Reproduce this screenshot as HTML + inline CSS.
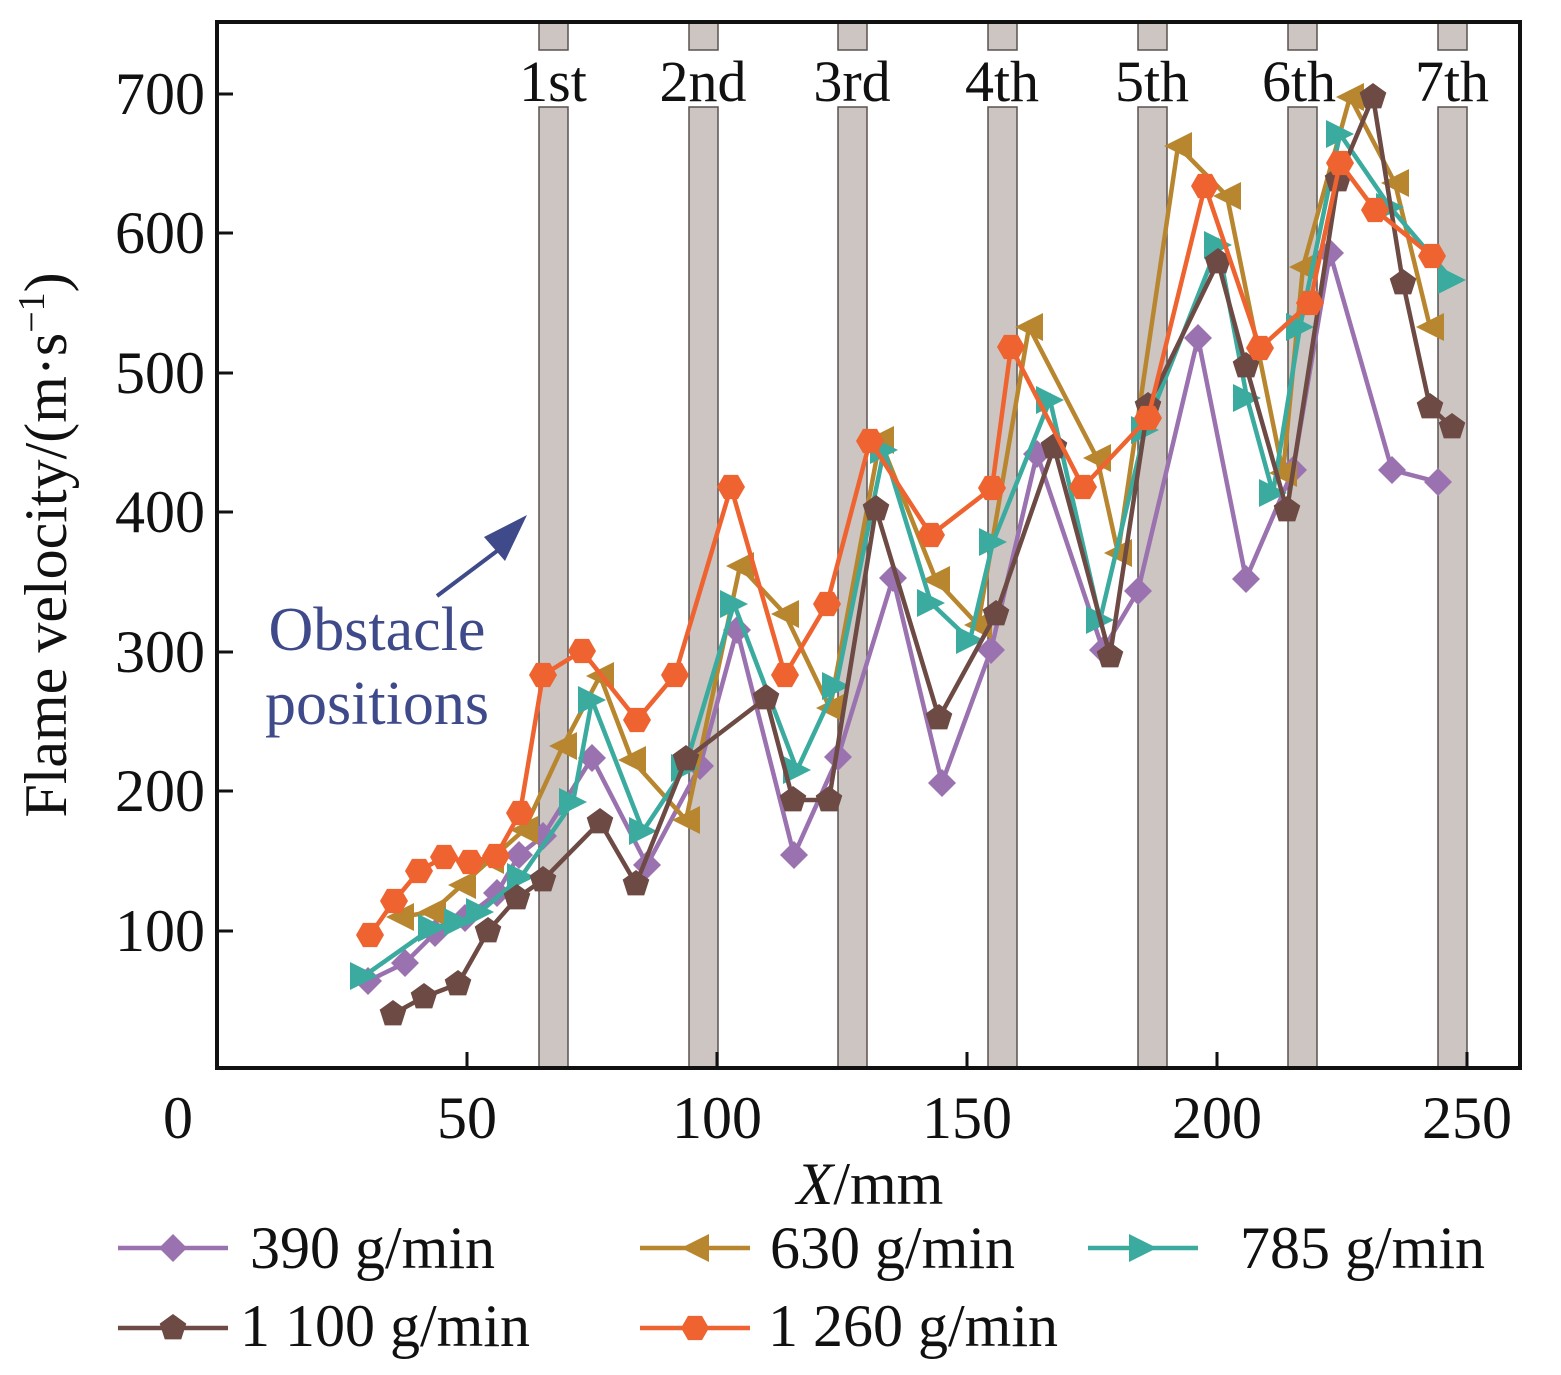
<!DOCTYPE html>
<html><head><meta charset="utf-8"><style>body{margin:0;background:#fff}svg{display:block}text{font-family:"Liberation Serif",serif;fill:#111}</style></head>
<body>
<svg id="s" width="1561" height="1375" viewBox="0 0 1561 1375" xmlns="http://www.w3.org/2000/svg">
<g id="bars" fill="#cdc5c2" stroke="#5a5250" stroke-width="1.5"></g>
<g id="series"></g>
<rect x="217" y="22" width="1303" height="1046" fill="none" stroke="#111" stroke-width="4"/>
<g font-size="58" text-anchor="middle">
<text x="553" y="101">1st</text><text x="703" y="101">2nd</text><text x="852" y="101">3rd</text><text x="1002" y="101">4th</text><text x="1152" y="101">5th</text><text x="1299" y="101">6th</text><text x="1452" y="101">7th</text>
</g>
<g stroke="#111" stroke-width="3">
<line x1="467" y1="1068" x2="467" y2="1052"/><line x1="717" y1="1068" x2="717" y2="1052"/><line x1="967" y1="1068" x2="967" y2="1052"/><line x1="1217" y1="1068" x2="1217" y2="1052"/><line x1="1467" y1="1068" x2="1467" y2="1052"/>
<line x1="217" y1="94" x2="233" y2="94"/><line x1="217" y1="233" x2="233" y2="233"/><line x1="217" y1="373" x2="233" y2="373"/><line x1="217" y1="512" x2="233" y2="512"/><line x1="217" y1="652" x2="233" y2="652"/><line x1="217" y1="791" x2="233" y2="791"/><line x1="217" y1="931" x2="233" y2="931"/>
</g>
<g font-size="60" text-anchor="end">
<text x="205" y="114">700</text><text x="205" y="253">600</text><text x="205" y="393">500</text><text x="205" y="532">400</text><text x="205" y="672">300</text><text x="205" y="811">200</text><text x="205" y="951">100</text>
</g>
<g font-size="60" text-anchor="middle">
<text x="178" y="1138">0</text><text x="467" y="1138">50</text><text x="717" y="1138">100</text><text x="967" y="1138">150</text><text x="1217" y="1138">200</text><text x="1467" y="1138">250</text>
<text x="870" y="1204"><tspan font-style="italic">X</tspan>/mm</text>
</g>
<text font-size="60" text-anchor="middle" transform="translate(66,545) rotate(-90)">Flame velocity/(m·s<tspan dy="-22" font-size="38">−1</tspan><tspan dy="22">)</tspan></text>
<g font-size="62" text-anchor="middle"><text x="377" y="650" style="fill:#3f4a8a">Obstacle</text><text x="377" y="724" style="fill:#3f4a8a">positions</text></g>
<line x1="437" y1="596" x2="505" y2="545" stroke="#3f4a8a" stroke-width="4"/>
<polygon points="527,515 484,537 505,561" fill="#3f4a8a"/>
<g id="leg"></g>
<g font-size="60">
<text x="250" y="1268">390 g/min</text><text x="770" y="1268">630 g/min</text><text x="1240" y="1268">785 g/min</text>
<text x="240" y="1346">1 100 g/min</text><text x="768" y="1346">1 260 g/min</text>
</g>
</svg>
<script>
var NS="http://www.w3.org/2000/svg";
function el(p,t,a){var e=document.createElementNS(NS,t);for(var k in a)e.setAttribute(k,a[k]);p.appendChild(e);return e;}
var bars=document.getElementById('bars');
[539,689,838,988,1138,1288,1438].forEach(function(x){el(bars,'rect',{x:x,y:22,width:29,height:28});el(bars,'rect',{x:x,y:107,width:29,height:961});});
function mk(g,type,x,y,c){var r=14,p=[];
 if(type=='d'){p=[[0,-r],[r,0],[0,r],[-r,0]];}
 else if(type=='l'){p=[[-r,0],[r,-r],[r,r]];}
 else if(type=='r'){p=[[r,0],[-r,-r],[-r,r]];}
 else {var n=type=='p'?5:6,off=type=='p'?-Math.PI/2:0;for(var i=0;i<n;i++){var a=off+i*2*Math.PI/n;p.push([r*Math.cos(a),r*Math.sin(a)]);}}
 el(g,'polygon',{points:p.map(function(q){return (x+q[0])+','+(y+q[1]);}).join(' '),fill:c});}
var S=[
['#9b72b0','d',[[368,981],[405,963],[435,933],[465,918],[497,893],[519,855],[543,836],[592,758],[647,865],[700,766],[737,630],[794,855],[838,757],[893,578],[942,783],[991,650],[1037,454],[1103,650],[1138,591],[1198,338],[1246,579],[1293,470],[1330,253],[1392,470],[1438,482]]],
['#b8862e','l',[[400,917],[432,912],[462,885],[490,860],[524,830],[563,746],[600,676],[632,760],[686,820],[740,566],[785,614],[830,708],[880,440],[936,580],[978,625],[1029,327],[1097,458],[1118,553],[1178,146],[1227,196],[1283,473],[1303,267],[1350,97],[1395,183],[1430,327]]],
['#3aab9e','r',[[364,976],[432,928],[458,922],[480,912],[521,877],[573,802],[592,700],[643,831],[685,768],[734,604],[797,770],[836,686],[884,450],[931,603],[970,640],[993,542],[1050,400],[1100,620],[1145,430],[1218,245],[1247,398],[1273,493],[1300,327],[1340,134],[1390,207],[1452,280]]],
['#6d4a44','p',[[393,1014],[424,997],[458,984],[488,931],[517,898],[543,880],[600,822],[636,884],[686,759],[766,698],[793,800],[829,800],[876,509],[939,718],[996,614],[1054,447],[1110,656],[1148,406],[1218,262],[1246,366],[1287,510],[1338,180],[1373,97],[1403,283],[1430,407],[1452,427]]],
['#ee6330','h',[[370,935],[394,901],[419,871],[444,857],[470,862],[496,856],[520,813],[543,675],[582,651],[637,720],[675,675],[731,487],[785,675],[827,604],[870,441],[931,535],[992,488],[1011,347],[1083,487],[1148,418],[1205,186],[1260,348],[1310,303],[1340,163],[1375,210],[1432,256]]]];
var g=document.getElementById('series');
S.forEach(function(s){el(g,'polyline',{points:s[2].map(function(p){return p.join(',');}).join(' '),fill:'none',stroke:s[0],'stroke-width':4.5});
 s[2].forEach(function(p){mk(g,s[1],p[0],p[1],s[0]);});});
var L=document.getElementById('leg');
[[118,1248,0],[640,1248,1],[1088,1248,2],[118,1328,3],[640,1328,4]].forEach(function(q){var s=S[q[2]];
 el(L,'line',{x1:q[0],y1:q[1],x2:q[0]+110,y2:q[1],stroke:s[0],'stroke-width':4.5});mk(L,s[1],q[0]+55,q[1],s[0]);});
</script>
</body></html>
